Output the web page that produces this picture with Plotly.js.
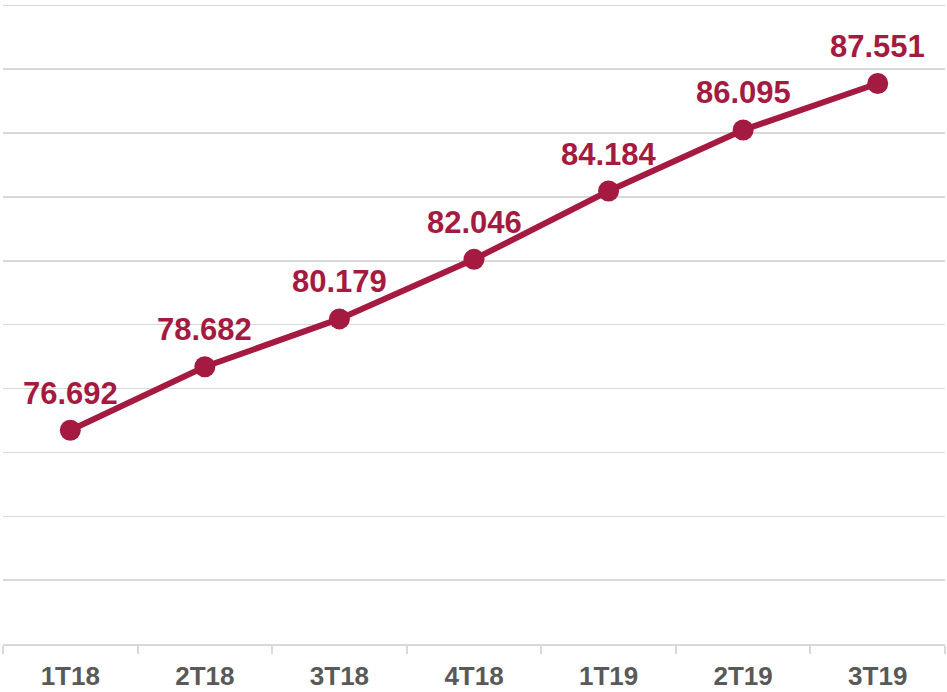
<!DOCTYPE html>
<html>
<head>
<meta charset="utf-8">
<script src="https://cdn.plot.ly/plotly-3.0.1.min.js"></script>
<style>html,body{margin:0;padding:0;background:#fff;}#chart{width:947px;height:692px;}</style>
</head>
<body>
<div id="chart"></div>
<script>
const categories = ["1T18", "2T18", "3T18", "4T18", "1T19", "2T19", "3T19"];
const values = [76.692, 78.682, 80.179, 82.046, 84.184, 86.095, 87.551];
const valueLabels = ["76.692", "78.682", "80.179", "82.046", "84.184", "86.095", "87.551"];

const lineColor = "#A51A40";

const trace = {
  x: categories,
  y: values,
  type: "scatter",
  mode: "lines+markers",
  line: {color: lineColor, width: 6},
  marker: {color: lineColor, size: 21},
  hoverinfo: "skip"
};

const annotations = categories.map((c, i) => ({
  x: c,
  y: values[i],
  text: valueLabels[i],
  showarrow: false,
  yshift: 37,
  xanchor: "center",
  yanchor: "middle",
  font: {family: "Liberation Sans, Arial, sans-serif", size: 31, color: lineColor, weight: "bold"}
}));

const layout = {
  width: 947,
  height: 692,
  margin: {l: 3, r: 2, t: 4, b: 48},
  paper_bgcolor: "#ffffff",
  plot_bgcolor: "#ffffff",
  showlegend: false,
  xaxis: {
    type: "category",
    range: [-0.5, 6.5],
    showgrid: false,
    zeroline: false,
    showline: true,
    linecolor: "#d9d9d9",
    linewidth: 2,
    ticks: "outside",
    tickson: "boundaries",
    ticklen: 8,
    tickwidth: 2,
    tickcolor: "#d9d9d9",
    ticklabelstandoff: 8,
    tickfont: {family: "Liberation Sans, Arial, sans-serif", size: 26, color: "#595959", weight: "bold"},
    fixedrange: true
  },
  yaxis: {
    range: [70, 90.04],
    tickvals: [70, 72, 74, 76, 78, 80, 82, 84, 86, 88, 90],
    showgrid: true,
    gridcolor: "#d9d9d9",
    gridwidth: 1.5,
    zeroline: false,
    showticklabels: false,
    showline: false,
    fixedrange: true
  },
  annotations: annotations
};

Plotly.newPlot("chart", [trace], layout, {displayModeBar: false, staticPlot: true});
</script>
</body>
</html>
